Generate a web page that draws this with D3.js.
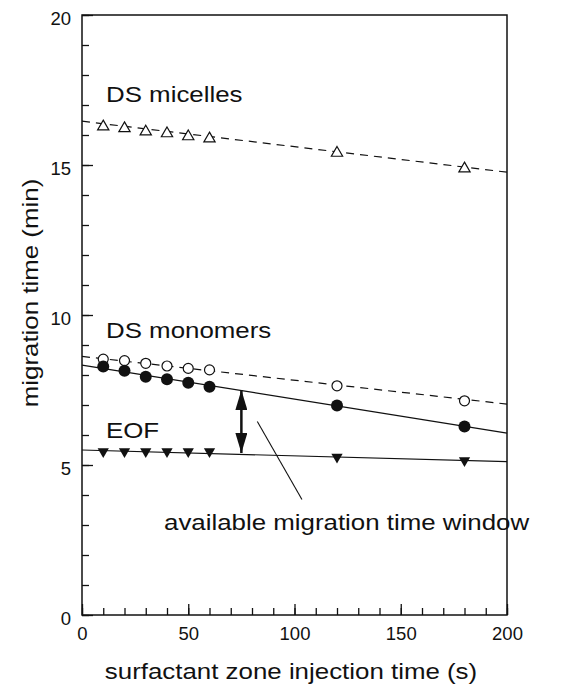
<!DOCTYPE html>
<html>
<head>
  <meta charset="UTF-8">
  <title>migration time vs injection time</title>
  <style>
    body { margin: 0; background: #fff; }
    .tick text { font-family: "Liberation Sans", Arial, sans-serif; font-size: 18.5px; fill: #111; }
    .lbl { font-family: "Liberation Sans", Arial, sans-serif; font-size: 22.5px; fill: #111; }
  </style>
</head>
<body>
<svg></svg>
<script src="https://d3js.org/d3.v7.min.js"></script>
<script>

// injection times (s)
var injTime = [10, 20, 30, 40, 50, 60, 120, 180];
// migration times (min)
var micelles  = [16.28, 16.22, 16.11, 16.05, 15.95, 15.88, 15.40, 14.88];
var monomers  = [8.53, 8.48, 8.39, 8.30, 8.22, 8.17, 7.64, 7.14];
var analyte   = [8.28, 8.14, 7.94, 7.86, 7.74, 7.61, 6.98, 6.28];
var eof       = [5.45, 5.45, 5.45, 5.45, 5.45, 5.45, 5.27, 5.15];

// fitted lines, end points at x = 0 and x = 200
var fitX = [0, 200];
var micellesFit = [16.46, 14.76];
var monomersFit = [8.62, 7.03];
var analyteFit  = [8.33, 6.06];
var eofFit      = [5.50, 5.11];

// annotation: double arrow and leader line
var arrowX = [75, 75];
var arrowY = [7.5, 5.4];
var leaderX = [82.5, 103.5];
var leaderY = [6.45, 3.85];

var xTicks = [0, 50, 100, 150, 200];
var yTicks = [0, 5, 10, 15, 20];

let width = 567, height = 685;
let svg = d3.select("svg").attr("width", width).attr("height", height);

let x = d3.scaleLinear().domain([0, 200]).range([82, 507]);
let y = d3.scaleLinear().domain([0, 20]).range([615, 15]);

// minor ticks
svg.append("g")
    .attr("transform", "translate(0,615)")
    .call(d3.axisBottom(x).tickValues(d3.range(0, 201, 10)).tickSizeInner(-7).tickSizeOuter(0).tickFormat(""))
    .call(g => g.select(".domain").remove());
svg.append("g")
    .attr("transform", "translate(82,0)")
    .call(d3.axisLeft(y).tickValues(d3.range(0, 21, 1)).tickSizeInner(-7).tickSizeOuter(0).tickFormat(""))
    .call(g => g.select(".domain").remove());

// major ticks + labels
svg.append("g")
    .attr("transform", "translate(0,615)")
    .call(d3.axisBottom(x).tickValues(xTicks).tickSizeInner(-11).tickSizeOuter(0).tickPadding(12))
    .call(g => g.select(".domain").remove());
svg.append("g")
    .attr("transform", "translate(82,0)")
    .call(d3.axisLeft(y).tickValues(yTicks).tickSizeInner(-11).tickSizeOuter(0).tickPadding(11))
    .call(g => g.select(".domain").remove())
    .selectAll("text").attr("dy", "0.52em");

svg.selectAll(".tick line").attr("stroke", "#111").attr("stroke-width", 1.3);

// frame
svg.append("rect")
    .attr("x", x(0)).attr("y", y(20))
    .attr("width", x(200) - x(0)).attr("height", y(0) - y(20))
    .attr("fill", "none").attr("stroke", "#111").attr("stroke-width", 1.5);

let line = d3.line().x(d => x(d[0])).y(d => y(d[1]));

function fitLine(vals, dashed) {
    svg.append("path")
        .datum(d3.zip(fitX, vals))
        .attr("d", line)
        .attr("fill", "none")
        .attr("stroke", "#111")
        .attr("stroke-width", 1.2)
        .attr("stroke-dasharray", dashed ? "8,6" : null);
}
fitLine(micellesFit, true);
fitLine(monomersFit, true);
fitLine(analyteFit, false);
fitLine(eofFit, false);

// markers
let triUp = d3.symbol().type(d3.symbolTriangle).size(55);
svg.append("g").selectAll("path")
    .data(d3.zip(injTime, micelles))
    .join("path")
    .attr("d", triUp)
    .attr("transform", d => "translate(" + x(d[0]) + "," + y(d[1]) + ")")
    .attr("fill", "#fff").attr("stroke", "#111").attr("stroke-width", 1.2);

svg.append("g").selectAll("circle")
    .data(d3.zip(injTime, monomers))
    .join("circle")
    .attr("cx", d => x(d[0])).attr("cy", d => y(d[1])).attr("r", 5)
    .attr("fill", "#fff").attr("stroke", "#111").attr("stroke-width", 1.2);

svg.append("g").selectAll("circle")
    .data(d3.zip(injTime, analyte))
    .join("circle")
    .attr("cx", d => x(d[0])).attr("cy", d => y(d[1])).attr("r", 6)
    .attr("fill", "#111");

svg.append("g").selectAll("path")
    .data(d3.zip(injTime, eof))
    .join("path")
    .attr("d", triUp)
    .attr("transform", d => "translate(" + x(d[0]) + "," + y(d[1]) + ") rotate(180)")
    .attr("fill", "#111");

// double headed arrow
svg.append("defs").append("marker")
    .attr("id", "head")
    .attr("viewBox", "0 0 20 12")
    .attr("refX", 20).attr("refY", 6)
    .attr("markerWidth", 20).attr("markerHeight", 12)
    .attr("markerUnits", "userSpaceOnUse")
    .attr("orient", "auto-start-reverse")
    .append("path")
    .attr("d", "M0,0 L20,6 L0,12 Z")
    .attr("fill", "#111");

svg.append("path")
    .datum(d3.zip(arrowX, arrowY))
    .attr("d", line)
    .attr("stroke", "#111").attr("stroke-width", 2.5)
    .attr("marker-start", "url(#head)")
    .attr("marker-end", "url(#head)");

svg.append("path")
    .datum(d3.zip(leaderX, leaderY))
    .attr("d", line)
    .attr("stroke", "#111").attr("stroke-width", 1.1);

// labels (source text is a bit wider than Arial)
let sx = 1.15;
function label(txt, tx, ty, anchor, rot) {
    svg.append("text")
        .attr("class", "lbl")
        .attr("text-anchor", anchor || "start")
        .attr("transform", "translate(" + tx + "," + ty + ")" + (rot ? " rotate(" + rot + ")" : "") + " scale(" + sx + ",1)")
        .text(txt);
}
label("DS micelles", 106, 102);
label("DS monomers", 106, 338);
label("EOF", 106, 438);
label("available migration time window", 164, 530);
label("surfactant zone injection time (s)", 291, 679, "middle");
label("migration time (min)", 38, 293, "middle", -90);

</script>
</body>
</html>
